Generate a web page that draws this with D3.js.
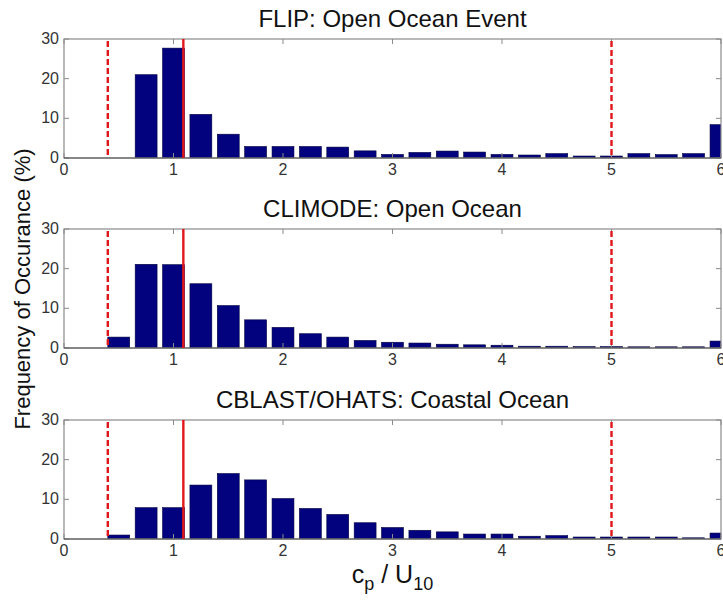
<!DOCTYPE html>
<html><head><meta charset="utf-8">
<script src="https://cdn.jsdelivr.net/npm/d3@7"></script>
<style>body{margin:0;background:#fff}svg{display:block}</style></head>
<body><svg id="c" width="723" height="600"></svg>
<script>
const binCenters = [0.5,0.75,1.0,1.25,1.5,1.75,2.0,2.25,2.5,2.75,3.0,3.25,3.5,3.75,4.0,4.25,4.5,4.75,5.0,5.25,5.5,5.75,6.0];
const flipValues    = [0,21,27.7,11,6,2.9,2.9,2.9,2.75,1.8,0.9,1.4,1.75,1.5,0.9,0.75,1.1,0.5,0.5,1.1,0.85,1.1,8.4];
const climodeValues = [2.75,21.1,21,16.2,10.7,7.1,5.2,3.6,2.75,1.9,1.45,1.25,0.95,0.8,0.7,0.45,0.45,0.35,0.35,0.3,0.3,0.3,1.75];
const cblastValues  = [1.0,7.9,7.9,13.6,16.5,14.9,10.2,7.7,6.2,4.1,2.9,2.2,1.8,1.25,1.25,0.7,0.85,0.5,0.5,0.5,0.5,0.3,1.5];
const panelTitles = ["FLIP: Open Ocean Event","CLIMODE: Open Ocean","CBLAST/OHATS: Coastal Ocean"];
const xTicks = [0,1,2,3,4,5,6];
const yTicks = [0,10,20,30];
const dashedLines = [0.4,5.0];
const solidLines = [1.09];
const binWidth = 0.2;

const series = [flipValues, climodeValues, cblastValues];
const svg = d3.select("#c");
svg.append("rect").attr("width",723).attr("height",600).attr("fill","#fff");

const left = 64, right = 721, panelH = 119;
const tops = [39, 229, 420];
const x = d3.scaleLinear().domain([0,6]).range([left,right]);
const font = "Liberation Sans, Arial, sans-serif";
const axisCol = "#8a8a8a";
const textCol = "#333";

series.forEach((vals,i)=>{
  const top = tops[i], bottom = top+panelH;
  const y = d3.scaleLinear().domain([0,30]).range([bottom,top]);
  const g = svg.append("g");
  const clipId = "clip"+i;
  svg.append("clipPath").attr("id",clipId).append("rect")
     .attr("x",left).attr("y",top).attr("width",right-left).attr("height",panelH);

  g.append("text").attr("x",(left+right)/2).attr("y",top-12)
   .attr("text-anchor","middle").attr("font-family",font).attr("font-size",24)
   .attr("fill","#111").text(panelTitles[i]);

  g.append("g").attr("clip-path",`url(#${clipId})`)
   .selectAll("rect").data(binCenters.map((c,k)=>({c,v:vals[k]})).filter(d=>d.v>0))
   .join("rect")
   .attr("x",d=>x(d.c-binWidth/2)).attr("width",d=>x(d.c+binWidth/2)-x(d.c-binWidth/2))
   .attr("y",d=>y(d.v)).attr("height",d=>y(0)-y(d.v))
   .attr("fill","#02027e").attr("stroke","#000040").attr("stroke-width",0.6);

  g.append("rect").attr("x",left).attr("y",top).attr("width",right-left).attr("height",panelH)
   .attr("fill","none").attr("stroke",axisCol).attr("stroke-width",1.2);

  const tl = 5;
  xTicks.forEach(t=>{
    g.append("line").attr("x1",x(t)).attr("x2",x(t)).attr("y1",top).attr("y2",top+tl).attr("stroke",axisCol);
    g.append("line").attr("x1",x(t)).attr("x2",x(t)).attr("y1",bottom).attr("y2",bottom-tl).attr("stroke",axisCol);
  });
  yTicks.forEach(t=>{
    g.append("line").attr("x1",left).attr("x2",left+tl).attr("y1",y(t)).attr("y2",y(t)).attr("stroke",axisCol);
    g.append("line").attr("x1",right).attr("x2",right-tl).attr("y1",y(t)).attr("y2",y(t)).attr("stroke",axisCol);
  });
  g.append("line").attr("x1",left).attr("x2",right).attr("y1",y(0)).attr("y2",y(0))
   .attr("stroke","#555").attr("stroke-width",1.2);

  g.selectAll(".xl").data(xTicks).join("text")
   .attr("x",d=>x(d)).attr("y",bottom+17).attr("text-anchor","middle")
   .attr("font-family",font).attr("font-size",16).attr("fill",textCol).text(d=>d);
  g.selectAll(".yl").data(yTicks).join("text")
   .attr("x",left-5).attr("y",d=>y(d)+5).attr("text-anchor","end")
   .attr("font-family",font).attr("font-size",16).attr("fill",textCol).text(d=>d);

  dashedLines.forEach(v=>{
    g.append("line").attr("x1",x(v)).attr("x2",x(v)).attr("y1",top+2).attr("y2",bottom)
     .attr("stroke","#e0161b").attr("stroke-width",2.4).attr("stroke-dasharray","6,3");
  });
  solidLines.forEach(v=>{
    g.append("line").attr("x1",x(v)).attr("x2",x(v)).attr("y1",top).attr("y2",bottom)
     .attr("stroke","#e0161b").attr("stroke-width",2.4);
  });
});

svg.append("text").attr("transform","translate(30,289) rotate(-90)")
  .attr("text-anchor","middle").attr("font-family",font).attr("font-size",22)
  .attr("fill","#111").text("Frequency of Occurance (%)");

const xl = svg.append("text").attr("x",(left+right)/2).attr("y",583).attr("text-anchor","middle")
  .attr("font-family",font).attr("font-size",25).attr("fill","#111");
xl.append("tspan").text("c");
xl.append("tspan").attr("dy",7).attr("font-size",18).text("p");
xl.append("tspan").attr("dy",-7).text(" / U");
xl.append("tspan").attr("dy",7).attr("font-size",18).text("10");
</script>
</body></html>
